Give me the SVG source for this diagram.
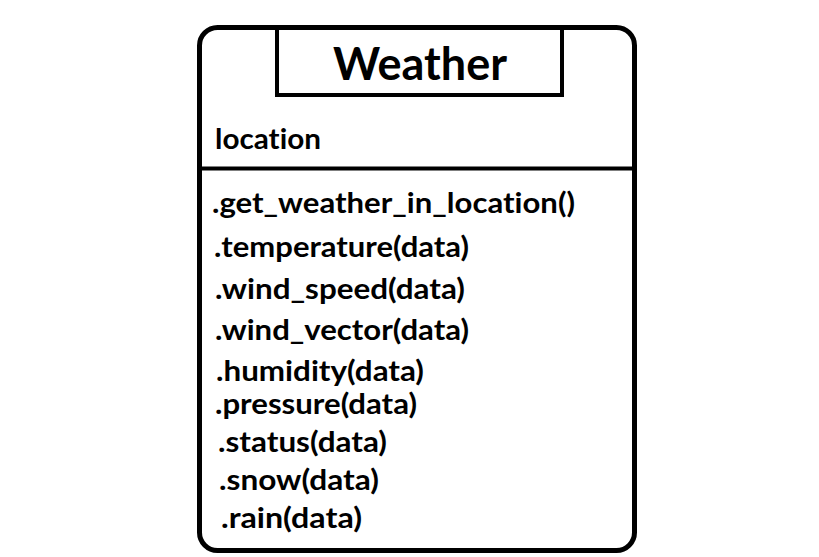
<svg xmlns="http://www.w3.org/2000/svg" width="819" height="557" viewBox="0 0 819 557">
<style>
.t,.ttl{font-family:Lato,"Noto Sans",sans-serif;font-weight:bold;fill:#000;font-variant-ligatures:none;font-feature-settings:"liga" 0,"clig" 0}
.t{font-size:28px}
.ttl{font-size:45px}
.b{fill:none;stroke:#000}
</style>
<rect width="819" height="557" fill="#fff"/>
<g id="weather-class">
<rect class="b" x="199.5" y="27.5" width="435" height="523" rx="18" ry="18" stroke-width="5"/>
<rect class="b" x="277" y="28" width="285" height="67" stroke-width="4"/>
<text class="ttl" x="333" y="80" textLength="174" lengthAdjust="spacingAndGlyphs">Weather</text>
<text class="t" x="215" y="149" textLength="106" lengthAdjust="spacingAndGlyphs">location</text>
<line class="b" x1="200" y1="168.5" x2="634" y2="168.5" stroke-width="4"/>
<text class="t" x="212" y="213" textLength="363" lengthAdjust="spacingAndGlyphs">.get_weather_in_location()</text>
<text class="t" x="214" y="257" textLength="255" lengthAdjust="spacingAndGlyphs">.temperature(data)</text>
<text class="t" x="215" y="299" textLength="250" lengthAdjust="spacingAndGlyphs">.wind_speed(data)</text>
<text class="t" x="215" y="340" textLength="254" lengthAdjust="spacingAndGlyphs">.wind_vector(data)</text>
<text class="t" x="216" y="381" textLength="208" lengthAdjust="spacingAndGlyphs">.humidity(data)</text>
<text class="t" x="215" y="414" textLength="202" lengthAdjust="spacingAndGlyphs">.pressure(data)</text>
<text class="t" x="218" y="452" textLength="169" lengthAdjust="spacingAndGlyphs">.status(data)</text>
<text class="t" x="219" y="490" textLength="160" lengthAdjust="spacingAndGlyphs">.snow(data)</text>
<text class="t" x="221" y="528" textLength="141" lengthAdjust="spacingAndGlyphs">.rain(data)</text>
</g>
<g id="connectors"/>
</svg>
